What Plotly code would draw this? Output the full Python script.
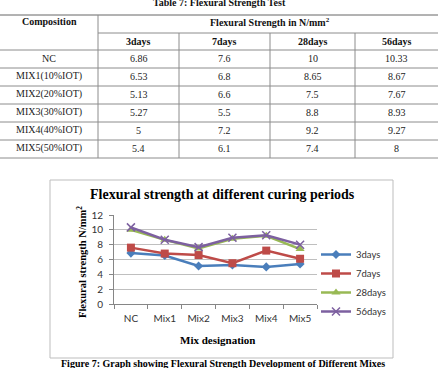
import plotly.graph_objects as go

# ---------------- data ----------------
mixes = ["NC", "Mix1", "Mix2", "Mix3", "Mix4", "Mix5"]
compositions = ["NC", "MIX1(10%IOT)", "MIX2(20%IOT)", "MIX3(30%IOT)", "MIX4(40%IOT)", "MIX5(50%IOT)"]
periods = ["3days", "7days", "28days", "56days"]
days3 = [6.86, 6.53, 5.13, 5.27, 5, 5.4]
days7 = [7.6, 6.8, 6.6, 5.5, 7.2, 6.1]
days28 = [10, 8.65, 7.5, 8.8, 9.2, 7.4]
days56 = [10.33, 8.67, 7.67, 8.93, 9.27, 8]
y_ticks = [0, 2, 4, 6, 8, 10, 12]

series = [days3, days7, days28, days56]
colors = ["#4A7EBB", "#BE4B48", "#98B954", "#7D60A0"]
symbols = ["diamond", "square", "triangle-up", "x-thin-open"]
sizes = [7, 8, 8, 8]

# ---------------- geometry (pixels) ----------------
W_FIG, H_FIG = 438, 368
L, R, T, B = 114, 121, 215, 64
PW = W_FIG - L - R
PH = H_FIG - T - B


def X(px):
    return (px - L) / PW


def Y(py):
    return (H_FIG - B - py) / PH


serif = "Liberation Serif"
sans = "Lato"

fig = go.Figure()
for name, vals, c, s, sz in zip(periods, series, colors, symbols, sizes):
    fig.add_trace(go.Scatter(
        x=mixes, y=vals, name=name, mode="lines+markers",
        line=dict(color=c, width=2.5),
        marker=dict(symbol=s, size=sz, color=c,
                    line=dict(color=c, width=1.5 if s.startswith("x") else 0)),
    ))

shapes = []
annotations = []

# chart frame
shapes.append(dict(type="rect", xref="paper", yref="paper",
                   x0=X(50), x1=X(393), y0=Y(180), y1=Y(358),
                   line=dict(color="#bdbdbd", width=1), layer="below"))

# ---------------- table ----------------
col_edges = [0, 98, 179, 270, 355, 438]
row_top, head1, head2 = 15, 33, 50
row_h = 18
grid = "#8c8c8c"


def hline(x0, x1, y, color=grid):
    shapes.append(dict(type="line", xref="paper", yref="paper",
                       x0=X(x0), x1=X(x1), y0=Y(y), y1=Y(y),
                       line=dict(color=color, width=1)))


def vline(x, y0, y1):
    shapes.append(dict(type="line", xref="paper", yref="paper",
                       x0=X(x), x1=X(x), y0=Y(y0), y1=Y(y1),
                       line=dict(color=grid, width=1)))


n_rows = len(compositions)
table_bottom = head2 + n_rows * row_h
hline(0, 438, row_top, "#666666")
hline(col_edges[1], 438, head1)
for i in range(n_rows + 1):
    hline(0, 438, head2 + i * row_h)
vline(col_edges[1], row_top, table_bottom)
for xe in col_edges[2:5]:
    vline(xe, head1, table_bottom)


def text(px, py, s, size=11, bold=False, font=serif, color="#111", **kw):
    annotations.append(dict(xref="paper", yref="paper", x=X(px), y=Y(py),
                            text=f"<b>{s}</b>" if bold else s, showarrow=False,
                            font=dict(family=font, size=size, color=color),
                            xanchor=kw.get("xanchor", "center"),
                            yanchor="middle", textangle=kw.get("angle", 0)))


text(219, 2, "Table 7: Flexural Strength Test", size=10, bold=True)
text(49, 22, "Composition", size=10, bold=True)
text(270, 22, "Flexural Strength in N/mm<sup>2</sup>", size=10, bold=True)
centers = [(col_edges[i] + col_edges[i + 1]) / 2 for i in range(5)]
for j, p in enumerate(periods):
    text(centers[j + 1], 41, p, size=10, bold=True)
for i, comp in enumerate(compositions):
    yc = head2 + i * row_h + row_h / 2 - 1
    text(centers[0], yc, comp, size=10, color="#222")
    for j, vals in enumerate(series):
        text(centers[j + 1], yc, f"{vals[i]:g}", size=10, color="#222")

# ---------------- chart texts ----------------
text(222, 194, "Flexural strength at different curing periods", size=14, bold=True, color="#000")
text(217, 340, "Mix designation", size=11, bold=True, color="#000")
text(81, 262, "Flexural strength N/mm<sup>2</sup>", size=10.5, bold=True, color="#000", angle=-90)
text(223, 363, "Figure 7: Graph showing Flexural Strength Development of Different Mixes",
     size=10, bold=True, color="#000")

fig.update_layout(
    width=W_FIG, height=H_FIG,
    margin=dict(l=L, r=R, t=T, b=B, pad=0),
    paper_bgcolor="white", plot_bgcolor="white",
    showlegend=True,
    legend=dict(x=X(316), y=Y(240), xanchor="left", yanchor="top",
                font=dict(family=sans, size=9.5, color="#333"),
                itemwidth=30, bgcolor="rgba(0,0,0,0)", tracegroupgap=0),
    xaxis=dict(type="category", showgrid=False, showline=True, linecolor="#868686",
               ticks="outside", tickson="boundaries", ticklen=4, tickcolor="#868686",
               ticklabelstandoff=5,
               tickfont=dict(family=sans, size=10, color="#333"), range=[-0.5, 5.5]),
    yaxis=dict(range=[0, 12], tickvals=y_ticks, showgrid=True, gridcolor="#bfbfbf",
               showline=True, linecolor="#868686", ticks="outside", ticklen=4,
               tickcolor="#868686", zeroline=False, ticklabelstandoff=4,
               tickfont=dict(family=sans, size=10, color="#333")),
    shapes=shapes, annotations=annotations,
)

fig.write_html("out.html")
